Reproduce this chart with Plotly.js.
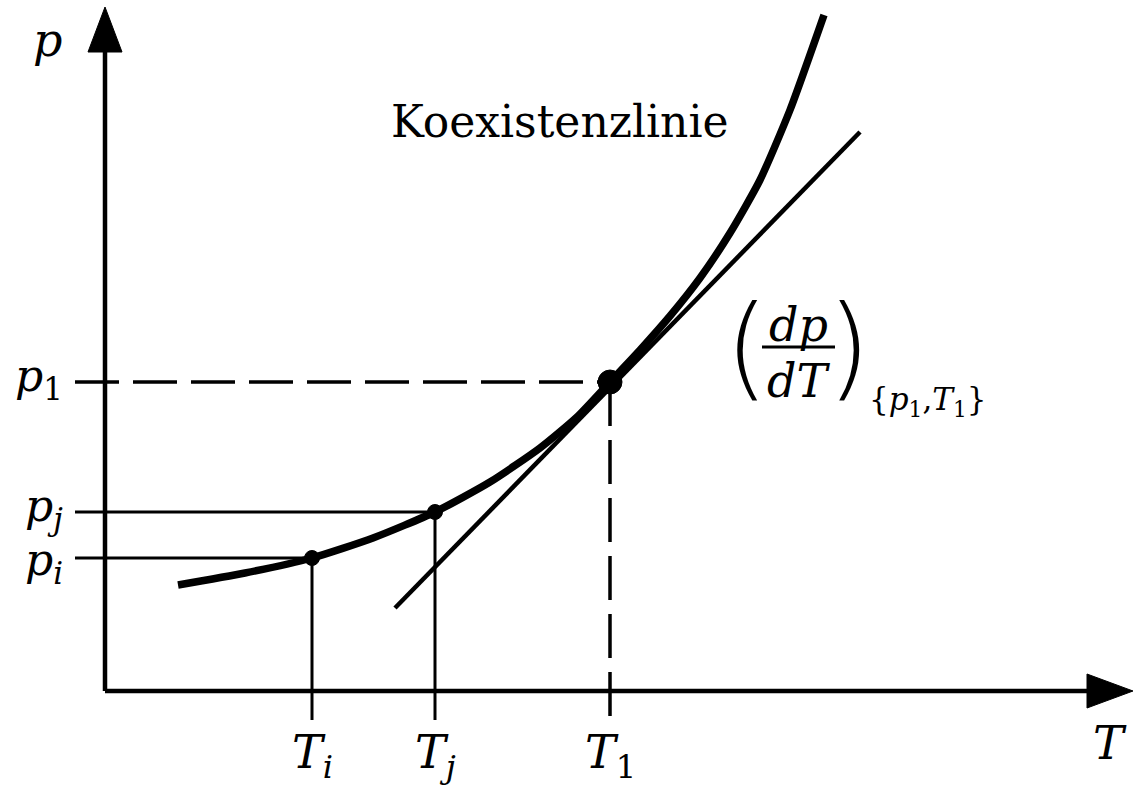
<!DOCTYPE html>
<html>
<head>
<meta charset="utf-8">
<script src="https://cdn.plot.ly/plotly-3.0.1.min.js"></script>
<style>
  html, body { margin: 0; padding: 0; background: #fff; }
  #chart { width: 1134px; height: 792px; }
</style>
</head>
<body>
<div id="chart"></div>
<script>
// Koexistenzlinie p(T) (T, p in arbitrary units)
const curveT = [0.73, 1.40, 2.07, 2.68, 3.30, 3.85, 4.35, 4.72, 5.05, 5.35, 5.65, 5.95, 6.25, 6.55, 6.85, 7.19];
const curveP = [1.06, 1.18, 1.33, 1.53, 1.79, 2.09, 2.43, 2.74, 3.09, 3.41, 3.75, 4.13, 4.58, 5.11, 5.81, 6.76];

// tangent at (T1, p1)
const tangentT = [2.90, 7.55];
const tangentP = [0.83, 5.59];

// marked points: (Ti, pi), (Tj, pj), (T1, p1)
const pointT = [2.07, 3.30, 5.05];
const pointP = [1.33, 1.79, 3.09];
const tLabels = ['<i>T</i><sub><i>i</i></sub>', '<i>T</i><sub><i>j</i></sub>', '<i>T</i><sub>1</sub>'];
const pLabels = ['<i>p</i><sub><i>i</i></sub>', '<i>p</i><sub><i>j</i></sub>', '<i>p</i><sub>1</sub>'];
const pLabelShift = [-0.04, 0.04, 0.04];

const xRange = [-1.05, 10.29];
const yRange = [-1.01, 6.91];
const axisTop = 6.45;
const axisRight = 9.9;
const tickLeft = -0.30;
const tickBottom = -0.29;
const serif = 'DejaVu Serif, serif';

const traces = [];

// guide lines from each point to the axes (p1 / T1 dashed, the others solid)
pointT.forEach((t, k) => {
    const last = k === pointT.length - 1;
    const line = { color: '#000', width: last ? 3.5 : 3, dash: last ? '44px,14px' : 'solid' };
    traces.push({ x: [tickLeft, t], y: [pointP[k], pointP[k]], mode: 'lines', line: line, hoverinfo: 'skip' });
    traces.push({ x: [t, t], y: [pointP[k], tickBottom], mode: 'lines', line: line, hoverinfo: 'skip' });
});

traces.push({
    x: tangentT, y: tangentP, mode: 'lines',
    line: { color: '#000', width: 4.5 }, hoverinfo: 'skip'
});

traces.push({
    x: curveT, y: curveP, mode: 'lines',
    line: { color: '#000', width: 7.5, shape: 'spline', smoothing: 0.6 }, hoverinfo: 'skip'
});

traces.push({
    x: pointT, y: pointP, mode: 'markers', opacity: 1,
    marker: { color: '#000', size: [15, 15, 24], opacity: 1, line: { color: '#000', width: 1 } },
    hoverinfo: 'skip'
});

const ann = (x, y, text, size, extra) => Object.assign({
    x: x, y: y, xref: 'x', yref: 'y', text: text, showarrow: false,
    font: { family: serif, size: size, color: '#000' }
}, extra || {});

const annotations = [];
pointT.forEach((t, k) => {
    annotations.push(ann(t, -0.64, tLabels[k], 46));
    annotations.push(ann(-0.40, pointP[k] + pLabelShift[k], pLabels[k], 44, { xanchor: 'right' }));
});
annotations.push(ann(-0.58, 6.51, '<i>p</i>', 46));
annotations.push(ann(10.05, -0.52, '<i>T</i>', 46));
annotations.push(ann(4.55, 5.70, 'Koexistenzlinie', 44));

// (dp/dT)_{p1,T1}
const parenFont = { family: 'DejaVu Sans, sans-serif', size: 112, color: '#000', weight: 200 };
annotations.push(ann(6.42, 3.45, '(', 112, { font: parenFont }));
annotations.push(ann(7.44, 3.45, ')', 112, { font: parenFont }));
annotations.push(ann(6.93, 3.66, '<i>dp</i>', 46));
annotations.push(ann(6.93, 3.10, '<i>dT</i>', 46));
annotations.push(ann(7.62, 2.90, '{<i>p</i><sub>1</sub>,<i>T</i><sub>1</sub>}', 31, { xanchor: 'left' }));

const shapes = [
    // axes
    { type: 'line', x0: 0, y0: 0, x1: 0, y1: axisTop, line: { color: '#000', width: 4.5 } },
    { type: 'line', x0: 0, y0: 0, x1: axisRight, y1: 0, line: { color: '#000', width: 4.5 } },
    // arrow heads
    { type: 'path', path: `M -0.17 ${axisTop - 0.06} L 0 6.84 L 0.17 ${axisTop - 0.06} Z`, fillcolor: '#000', line: { color: '#000', width: 1 } },
    { type: 'path', path: `M ${axisRight - 0.08} -0.17 L 10.28 0 L ${axisRight - 0.08} 0.17 Z`, fillcolor: '#000', line: { color: '#000', width: 1 } },
    // fraction bar
    { type: 'line', x0: 6.57, y0: 3.44, x1: 7.30, y1: 3.44, line: { color: '#000', width: 3 } }
];

Plotly.newPlot('chart', traces, {
    width: 1134,
    height: 792,
    margin: { l: 0, r: 0, t: 0, b: 0 },
    paper_bgcolor: '#fff',
    plot_bgcolor: '#fff',
    showlegend: false,
    xaxis: { range: xRange, visible: false, fixedrange: true },
    yaxis: { range: yRange, visible: false, fixedrange: true },
    annotations: annotations,
    shapes: shapes
}, { staticPlot: true });
</script>
</body>
</html>
